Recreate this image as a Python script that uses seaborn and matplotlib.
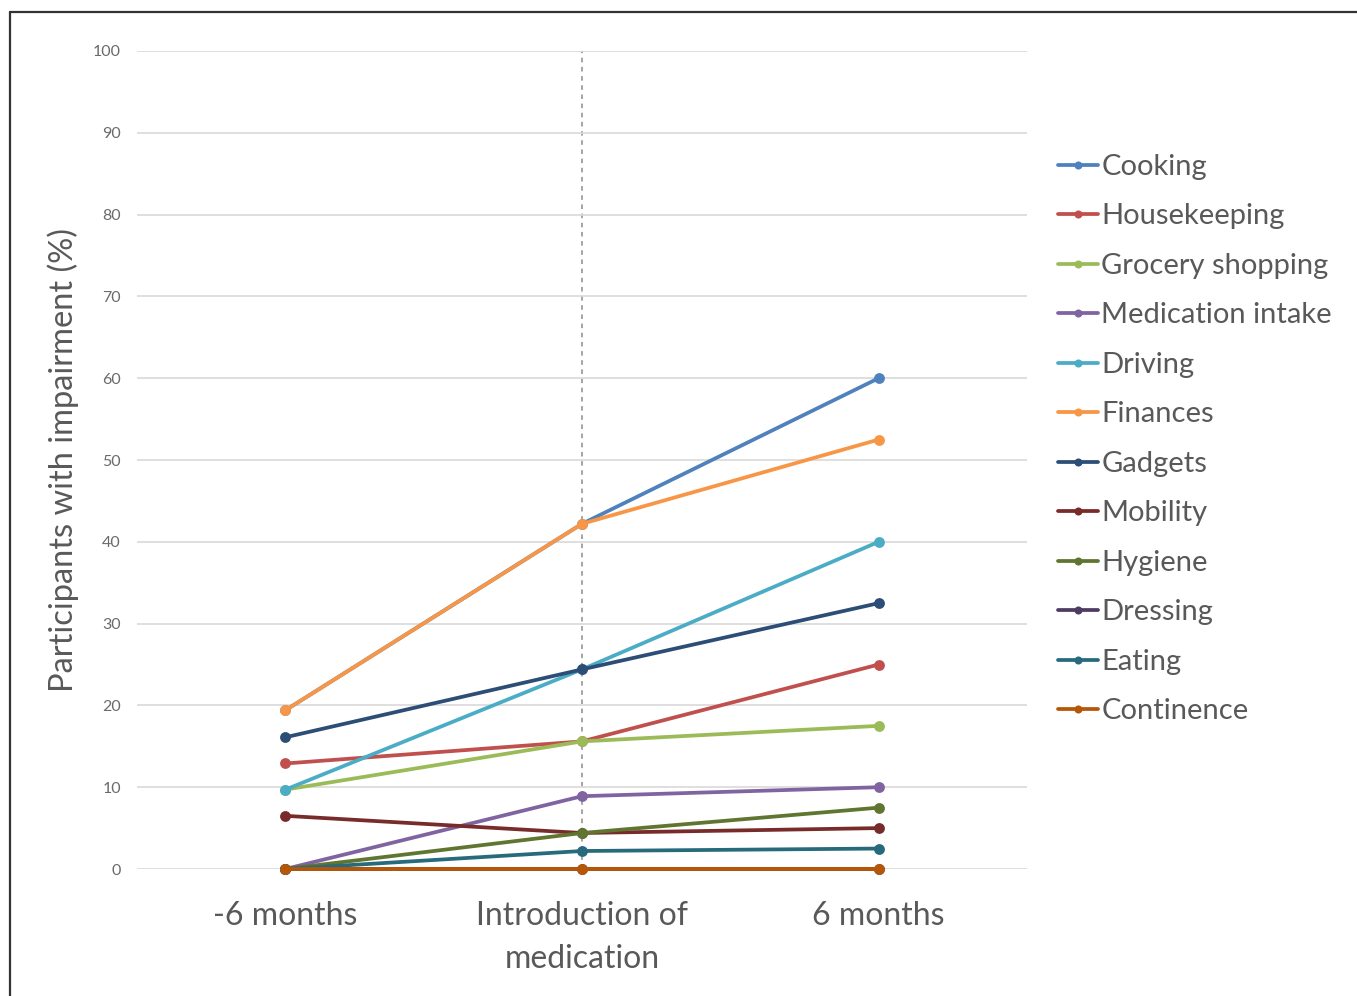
import matplotlib
matplotlib.use("Agg")
import matplotlib.pyplot as plt
from matplotlib.lines import Line2D
import seaborn as sns
import pandas as pd

timepoints = ["-6 months", "Introduction of\nmedication", "6 months"]
activities = ["Cooking", "Housekeeping", "Grocery shopping", "Medication intake",
              "Driving", "Finances", "Gadgets", "Mobility", "Hygiene",
              "Dressing", "Eating", "Continence"]

cooking = [19.4, 42.2, 60.0]
housekeeping = [12.9, 15.6, 25.0]
grocery = [9.7, 15.6, 17.5]
medication = [0.0, 8.9, 10.0]
driving = [9.7, 24.4, 40.0]
finances = [19.4, 42.2, 52.5]
gadgets = [16.1, 24.4, 32.5]
mobility = [6.5, 4.4, 5.0]
hygiene = [0.0, 4.4, 7.5]
dressing = [0.0, 0.0, 0.0]
eating = [0.0, 2.2, 2.5]
continence = [0.0, 0.0, 0.0]

series = [cooking, housekeeping, grocery, medication, driving, finances,
          gadgets, mobility, hygiene, dressing, eating, continence]

colors = ["#4F81BD", "#C0504D", "#9BBB59", "#8064A2", "#4BACC6", "#F79646",
          "#2C4D75", "#772C2A", "#5F7530", "#4D3B62", "#276A7C", "#B65708"]

rows = []
for name, vals in zip(activities, series):
    for t, v in zip(timepoints, vals):
        rows.append({"Time": t, "Activity": name, "Value": v})
df = pd.DataFrame(rows)

sns.set_style("white")
plt.rcParams["font.family"] = ["Lato", "DejaVu Sans"]

fig = plt.figure(figsize=(13.57, 9.96), dpi=100)
ax = fig.add_axes([137/1357, 1 - 869/996, (1027-137)/1357, (869-51)/996])

palette = dict(zip(activities, colors))
sns.lineplot(data=df, x="Time", y="Value", hue="Activity", hue_order=activities,
             palette=palette, marker="o", markersize=7.8, markeredgewidth=0,
             linewidth=2.7, sort=False, legend=False, ax=ax, clip_on=False)

ax.set_xlim(-0.5, 2.5)
ax.set_ylim(0, 100)
ax.set_yticks(range(0, 101, 10))
ax.yaxis.grid(True, color="#D9D9D9", linewidth=1.2)
ax.set_axisbelow(True)
for s in ax.spines.values():
    s.set_visible(False)
ax.axvline(1, color="#8C8C8C", linestyle=(0, (3, 3)), linewidth=1.1, zorder=0.5)

ax.tick_params(axis="y", length=0, pad=11.5, labelsize=11.5, labelcolor="#6A6A6A")
ax.tick_params(axis="x", length=0, pad=23, labelsize=23, labelcolor="#595959")
for lbl in ax.get_xticklabels():
    lbl.set_linespacing(1.55)
ax.set_xlabel("")
ax.set_ylabel("Participants with impairment (%)", fontsize=23.5, color="#595959",
              labelpad=10)

handles = [Line2D([0], [0], color=c, lw=2.7, marker="o", markersize=5.8,
                  markeredgewidth=0) for c in colors]
fig.legend(handles, activities, loc="upper left",
           bbox_to_anchor=(1058/1357, 1 - 154/996), frameon=False,
           fontsize=21, labelcolor="#595959", handlelength=1.37,
           handletextpad=0.12, labelspacing=0.805, borderaxespad=0,
           borderpad=0)

# partial frame (left and top border)
fig.add_artist(Line2D([10/1357, 10/1357], [0, 1 - 12/996], color="#333333",
                      lw=1.6, transform=fig.transFigure))
fig.add_artist(Line2D([10/1357, 1], [1 - 12/996, 1 - 12/996], color="#333333",
                      lw=1.6, transform=fig.transFigure))

fig.savefig("out.png", dpi=100, facecolor="white")
